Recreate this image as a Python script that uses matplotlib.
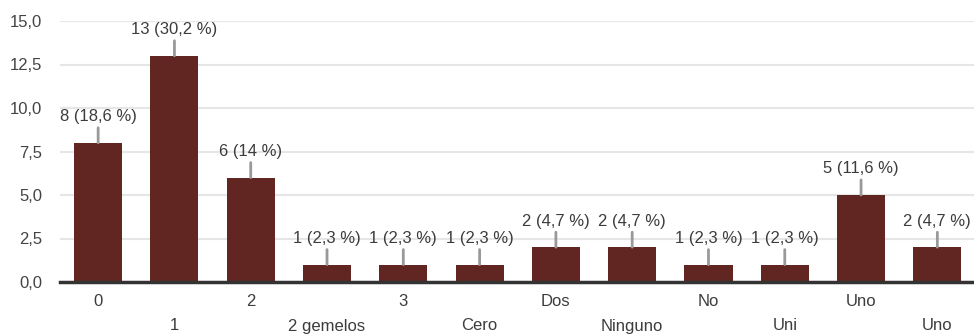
import matplotlib
matplotlib.use("Agg")
import matplotlib.pyplot as plt
import numpy as np

plt.rcParams["font.family"] = ["Liberation Sans", "DejaVu Sans"]

# data
categories = ["0", "1", "2", "2 gemelos", "3", "Cero", "Dos", "Ninguno", "No", "Uni", "Uno", "Uno"]
counts = [8, 13, 6, 1, 1, 1, 2, 2, 1, 1, 5, 2]
percents = ["18,6", "30,2", "14", "2,3", "2,3", "2,3", "4,7", "4,7", "2,3", "2,3", "11,6", "4,7"]
yticks = [0, 2.5, 5, 7.5, 10, 12.5, 15]

bar_color = "#612622"
text_color = "#3c3c3c"

fig = plt.figure(figsize=(9.74, 3.34), dpi=100)
ax = fig.add_axes([60 / 974, (334 - 282) / 334, 915.5 / 974, (282 - 21) / 334])

x = np.arange(len(categories))
ax.bar(x, counts, width=0.63, color=bar_color, zorder=3)

ax.set_xlim(-0.5, len(categories) - 0.5)
ax.set_ylim(0, 15)
ax.set_yticks(yticks)
ax.set_yticklabels([("%.1f" % v).replace(".", ",") for v in yticks])
ax.yaxis.grid(True, color="#e6e6e6", linewidth=1.5, zorder=0)
ax.tick_params(axis="y", length=0, pad=13, labelsize=12, labelcolor="#444444")

for s in ["top", "right", "left"]:
    ax.spines[s].set_visible(False)
ax.spines["bottom"].set_color("#333333")
ax.spines["bottom"].set_linewidth(2.5)
ax.spines["bottom"].set_zorder(4)

# staggered category labels
ax.set_xticks(x)
ax.set_xticklabels([])
ax.tick_params(axis="x", length=0)
for i, c in enumerate(categories):
    off = -19 if i % 2 == 0 else -44
    ax.annotate(c, (i, 0), xytext=(0, off), textcoords="offset pixels",
                ha="center", va="center", fontsize=12, color=text_color,
                annotation_clip=False)

# value labels with little leader lines
for i, (v, p) in enumerate(zip(counts, percents)):
    ax.annotate("", (i, v), xytext=(0, 15), textcoords="offset pixels",
                arrowprops=dict(arrowstyle="-", color="#999999", lw=2,
                                shrinkA=0, shrinkB=0))
    ax.annotate("%d (%s %%)" % (v, p), (i, v), xytext=(0, 26),
                textcoords="offset pixels", ha="center", va="center",
                fontsize=12, color=text_color, annotation_clip=False)

fig.savefig("out.png", dpi=100)
